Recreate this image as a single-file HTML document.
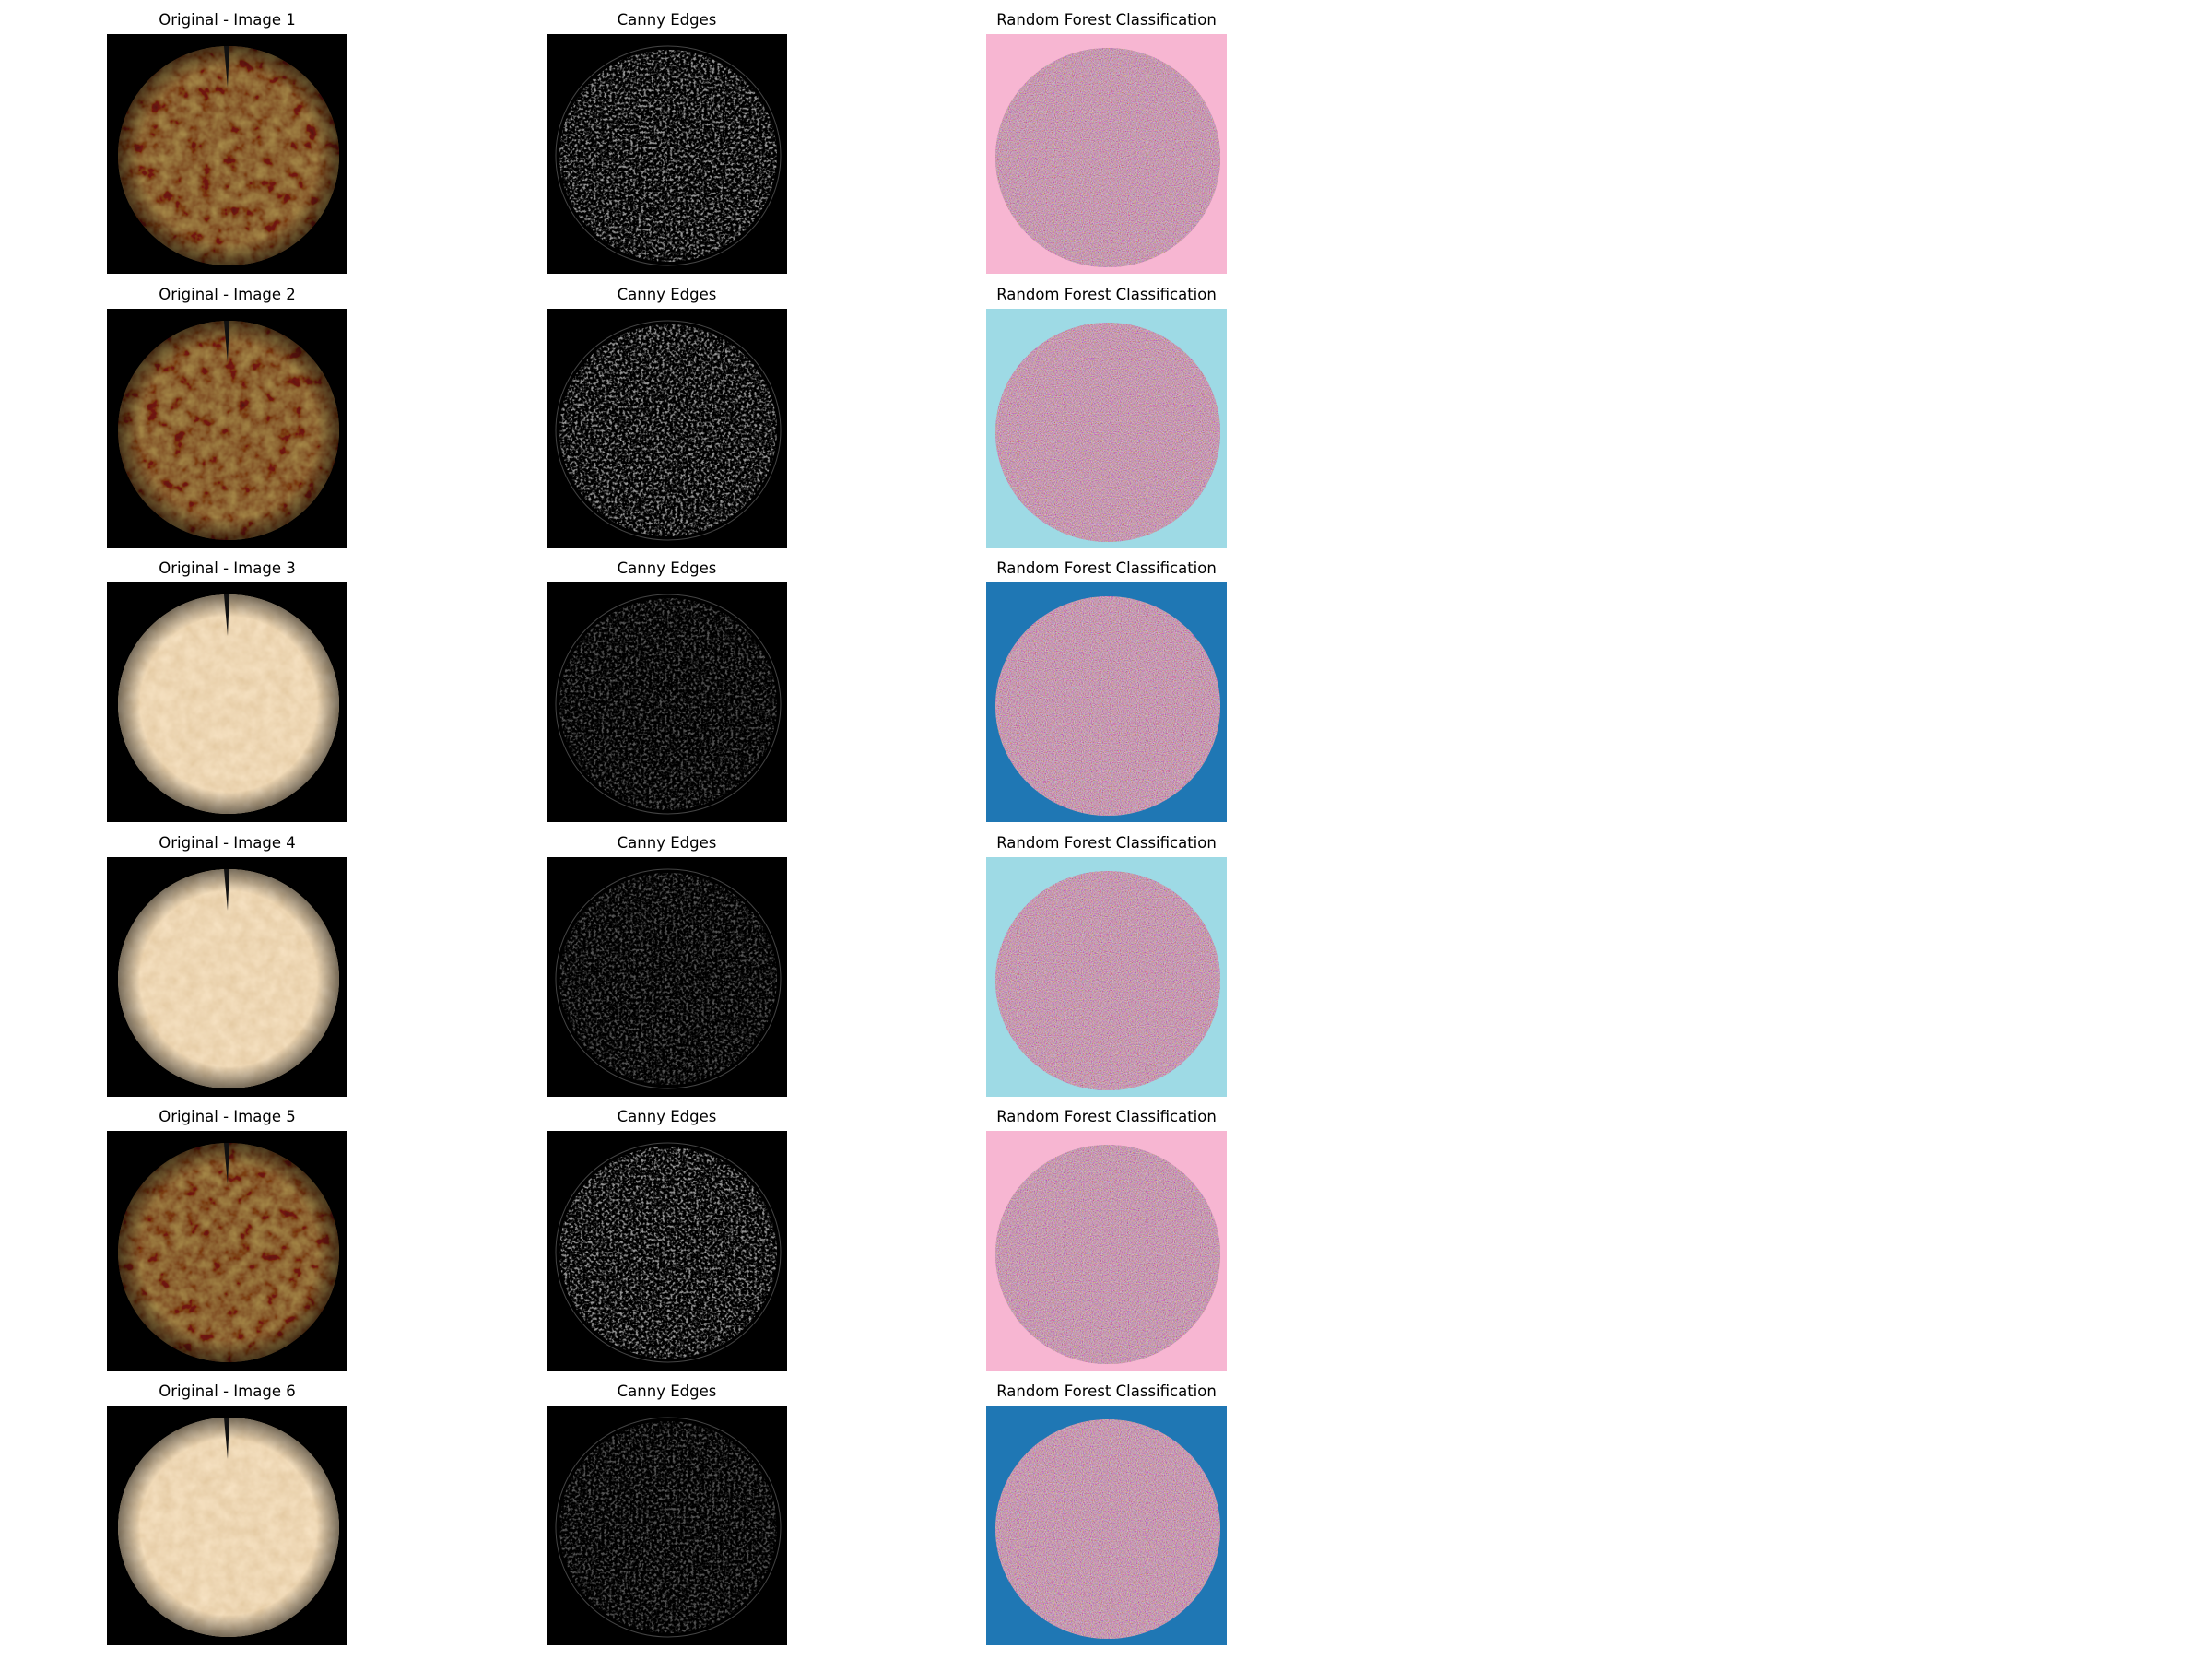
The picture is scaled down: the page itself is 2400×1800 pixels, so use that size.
<!DOCTYPE html>
<html><head><meta charset="utf-8">
<style>
html,body{margin:0;padding:0;background:#fff;}
#fig{position:relative;width:2400px;height:1800px;overflow:hidden;}
.t{position:absolute;font-family:"DejaVu Sans","Liberation Sans",sans-serif;font-size:16.5px;color:#000;text-align:center;width:400px;white-space:nowrap;}
svg.p{position:absolute;}
</style></head>
<body>
<div id="fig"></div>
<script>
const rowLabels = ["Image 1","Image 2","Image 3","Image 4","Image 5","Image 6"];
const origTone = ["dark","dark","light","light","dark","light"];
const rfBackground = ["#f7b6d2","#9edae5","#1f77b4","#9edae5","#f7b6d2","#1f77b4"];
const colTitles = ["Original - ","Canny Edges","Random Forest Classification"];

const fig = document.getElementById('fig');
const colX = [116, 593, 1070];
const W = 261, H = 260, top0 = 37, pitch = 297.6;
const NS = 'http://www.w3.org/2000/svg';

function noiseFilter(id, freq, oct, seed, matrix){
  return `<filter id="${id}" x="0" y="0" width="100%" height="100%"><feTurbulence type="fractalNoise" baseFrequency="${freq}" numOctaves="${oct}" seed="${seed}"/><feColorMatrix type="matrix" values="${matrix}"/><feComposite in2="SourceGraphic" operator="in"/></filter>`;
}

rowLabels.forEach((lab, r) => {
  const y = top0 + r * pitch;
  for (let c = 0; c < 3; c++) {
    const t = document.createElement('div');
    t.className = 't';
    t.style.left = (colX[c] + W/2 - 200) + 'px';
    t.style.top = (y - 25) + 'px';
    t.textContent = c === 0 ? colTitles[0] + lab : colTitles[c];
    
    
    fig.appendChild(t);

    const svg = document.createElementNS(NS, 'svg');
    svg.setAttribute('class', 'p');
    svg.setAttribute('width', W); svg.setAttribute('height', H);
    svg.style.left = colX[c] + 'px'; svg.style.top = y + 'px';
    
    
    const id = 'f' + r + '_' + c;
    let html = '';
    const cx = 132, cy = 132, rx = 122, ry = 119;
    if (c === 0) {
      const dark = origTone[r] === 'dark';
      const base = dark ? '#5c2e22' : '#e8c896';
      const m = dark
        ? "1.0 0 0 0 0.0  1.3 0 0 0 -0.35  0.3 0 0 0 -0.1  0 0 0 0 1"
        : "0.3 0 0 0 0.74  0.35 0 0 0 0.58  0.4 0 0 0 0.38  0 0 0 0 1";
      html = `<defs>${noiseFilter(id,0.07,3,r+3,m)}
        <radialGradient id="g${id}"><stop offset="0.8" stop-color="#000" stop-opacity="0"/><stop offset="1" stop-color="#000" stop-opacity="0.5"/></radialGradient></defs>
        <rect width="${W}" height="${H}" fill="#000"/>
        <ellipse cx="${cx}" cy="${cy}" rx="${rx-2}" ry="${ry}" fill="${base}"/>
        <ellipse cx="${cx}" cy="${cy}" rx="${rx-2}" ry="${ry}" fill="#fff" filter="url(#${id})" opacity="${dark?0.5:0.6}"/>
        <ellipse cx="${cx}" cy="${cy}" rx="${rx-2}" ry="${ry}" fill="url(#g${id})"/>
        <path d="M${cx-5} ${cy-ry} L${cx+1} ${cy-ry} L${cx-1} ${cy-ry+45} Z" fill="#111"/>`;
    } else if (c === 1) {
      const m = "0 0 0 0 0.5  0 0 0 0 0.5  0 0 0 0 0.5  4 0 0 0 -1.9";
      const op = origTone[r] === 'dark' ? 0.8 : 0.45;
      html = `<defs>${noiseFilter(id,0.35,2,r+11,m)}</defs><rect width="${W}" height="${H}" fill="#000"/>
        <ellipse cx="${cx}" cy="${cy}" rx="${rx-4}" ry="${ry-4}" fill="#fff" filter="url(#${id})" opacity="${op}"/>
        <ellipse cx="${cx}" cy="${cy}" rx="${rx}" ry="${ry}" fill="none" stroke="#444" stroke-width="1"/>`;
    } else {
      const m = "1.6 0 0 0 -0.1  0 1.8 0 0 -0.45  0 0 2.2 0 -0.5  0 0 0 0 1";
      html = `<defs>${noiseFilter(id,0.9,1,r+21,m)}</defs><rect width="${W}" height="${H}" fill="${rfBackground[r]}"/>
        <ellipse cx="${cx}" cy="${cy+2}" rx="${rx}" ry="${ry}" fill="#b07f95"/>
        <ellipse cx="${cx}" cy="${cy+2}" rx="${rx}" ry="${ry}" fill="#fff" filter="url(#${id})" opacity="0.55"/>`;
    }
    svg.innerHTML = html;
    fig.appendChild(svg);
  }
});
</script>
</body></html>
